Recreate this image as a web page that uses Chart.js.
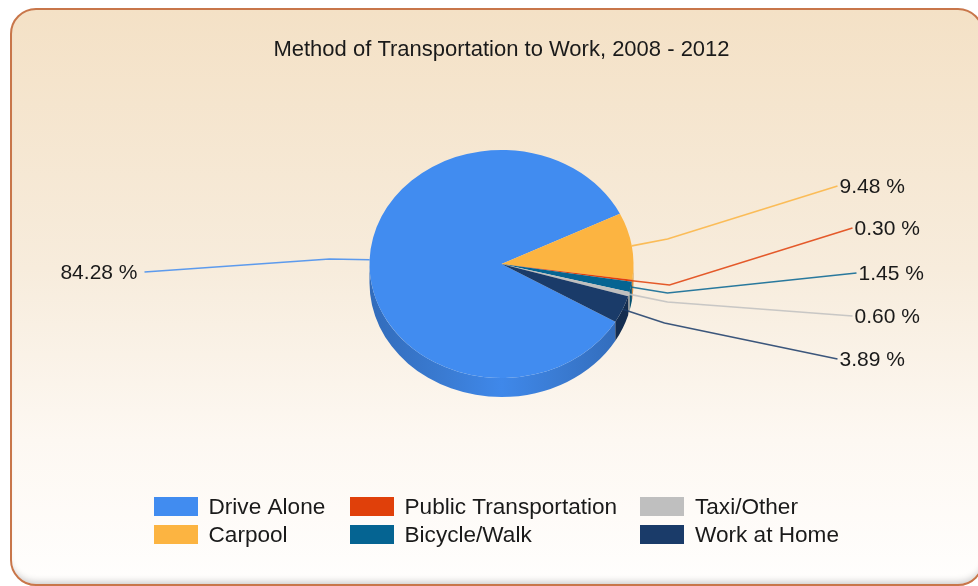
<!DOCTYPE html>
<html><head><meta charset="utf-8">
<style>
html,body{margin:0;padding:0;width:978px;height:586px;overflow:hidden;background:#fff}
#card{position:absolute;left:10px;top:8px;width:970px;height:574px;box-sizing:content-box;border:2px solid #c8764a;border-radius:26px;
background:linear-gradient(to bottom,#f4e1c6 0%,#f7ecdc 45%,#fdf8f2 75%,#fffefd 100%);
box-shadow:inset 0 -7px 7px -5px #c9c9c9}
#wrap{position:absolute;left:0;top:0;width:978px;height:586px}
canvas{filter:blur(0.45px)}
</style>
<script src="https://cdn.jsdelivr.net/npm/chart.js@4"></script>
</head><body>
<div id="card"></div>
<div id="wrap"><canvas id="c" width="978" height="586"></canvas></div>
<script>
const categories = ["Drive Alone","Carpool","Public Transportation","Bicycle/Walk","Taxi/Other","Work at Home"];
const shares = [84.28,9.48,0.30,1.45,0.60,3.89];
const sliceColors = ["#418CF0","#FCB441","#E0400A","#056492","#BFBFBF","#1A3B69"];
const wallColors = ["#3a7bd2","#d99a38","#b83508","#04506f","#9a9a9a","#142d50"];
const chartTitle = "Method of Transportation to Work, 2008 - 2012";

const TILT = 0.864, DEPTH = 19, VALUE_FONT = '21px "Liberation Sans"', LEGEND_FONT = '22.6px "Liberation Sans"', INK = "#1a1a1a";
// leader routing, offsets from the pie centre: [elbowX, elbowY, endX, endY, textSide]
const leaders = [
  [-172,-5,-357,8,"right"],
  [166,-25,336,-78,"left"],
  [168,21,351,-36,"left"],
  [166,29,355,9,"left"],
  [166,38,351,52,"left"],
  [163,59,336,95,"left"]
];
// legend layout: [swatchX, rowY] per item
const legendSlots = [[154,507],[154,535],[350,507],[350,535],[640,507],[640,535]];
const legendOrder = [0,1,2,3,4,5];

const pie3d = {
  id:"pie3d",
  beforeDatasetsDraw(chart){
    const ctx = chart.ctx, arcs = chart.getDatasetMeta(0).data;
    const cx = arcs[0].x, cy = arcs[0].y, R = arcs[0].outerRadius, ry = R*TILT;
    // side wall
    arcs.forEach((a,i)=>{
      for (const k of [-1,0,1]){
        const s = Math.max(a.startAngle+2*Math.PI*k,0), e = Math.min(a.endAngle+2*Math.PI*k,Math.PI);
        if (e<=s) continue;
        ctx.beginPath();
        ctx.ellipse(cx,cy,R,ry,0,s,e);
        ctx.ellipse(cx,cy+DEPTH,R,ry,0,e,s,true);
        ctx.closePath();
        if (i===0){
          const g = ctx.createLinearGradient(cx-R,0,cx+R,0);
          g.addColorStop(0,"#326cbb"); g.addColorStop(0.28,"#3a7bd2"); g.addColorStop(0.5,"#3f88ea");
          g.addColorStop(0.72,"#3a7bd2"); g.addColorStop(0.95,"#326cbb");
          ctx.fillStyle = g;
        } else ctx.fillStyle = wallColors[i];
        ctx.fill();
      }
    });
    ctx.save();
    ctx.translate(cx,cy); ctx.scale(1,TILT); ctx.translate(-cx,-cy);
  },
  afterDatasetsDraw(chart){
    const ctx = chart.ctx; ctx.restore();
    const arcs = chart.getDatasetMeta(0).data;
    const cx = arcs[0].x, cy = arcs[0].y, R = arcs[0].outerRadius;
    // leaders and value labels
    arcs.forEach((a,i)=>{
      const mid = (a.startAngle+a.endAngle)/2, L = leaders[i];
      const sx = cx+R*Math.cos(mid), sy = cy+R*TILT*Math.sin(mid);
      ctx.beginPath(); ctx.moveTo(sx,sy); ctx.lineTo(cx+L[0],cy+L[1]); ctx.lineTo(cx+L[2],cy+L[3]);
      ctx.strokeStyle = sliceColors[i]; ctx.lineWidth = 1.6; ctx.globalAlpha = 0.85; ctx.stroke(); ctx.globalAlpha = 1;
      ctx.font = VALUE_FONT; ctx.fillStyle = INK; ctx.textBaseline = "middle"; ctx.textAlign = L[4];
      ctx.fillText(shares[i].toFixed(2)+" %", cx+L[2]+(L[4]==="left"?2:-7), cy+L[3]+1);
    });
    // legend
    legendOrder.forEach((d,n)=>{
      const [x,y] = legendSlots[n];
      ctx.fillStyle = sliceColors[d]; ctx.fillRect(x,y-10,44,19);
      ctx.font = LEGEND_FONT; ctx.fillStyle = INK; ctx.textAlign = "left"; ctx.textBaseline = "middle";
      ctx.fillText(categories[d], x+(n<4?54.5:55), y+1);
    });
  }
};

new Chart(document.getElementById("c"),{
  type:"pie",
  data:{labels:categories,datasets:[{data:shares,backgroundColor:sliceColors,borderWidth:0}]},
  plugins:[pie3d],
  options:{
    responsive:false,animation:false,rotation:120.4,radius:132,
    layout:{padding:{left:261,right:236,top:0,bottom:178}},
    plugins:{
      legend:{display:false},tooltip:{enabled:false},
      title:{display:true,text:chartTitle,fullSize:false,color:INK,
        font:{family:"Liberation Sans",size:22,weight:"normal"},padding:{top:36.8,bottom:56.8}}
    }
  }
});
</script>
</body></html>
